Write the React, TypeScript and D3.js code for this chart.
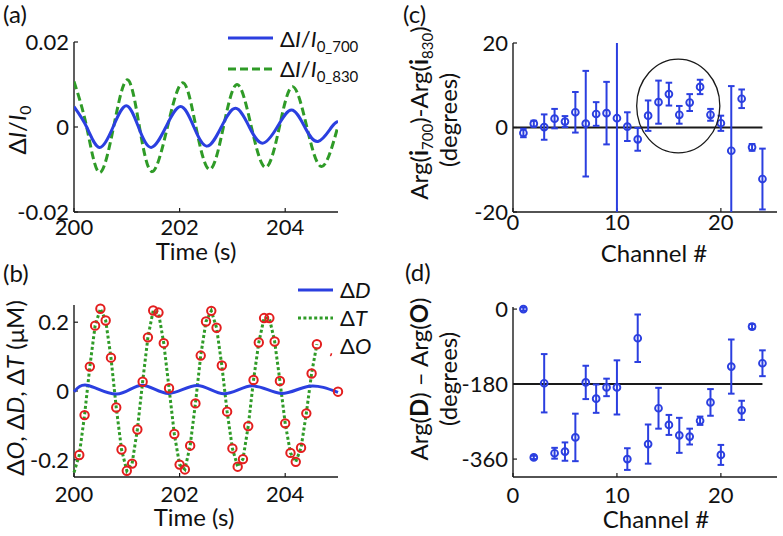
import React from 'react';
import * as d3 from 'd3';

const FONT = "Lato, 'Liberation Sans', sans-serif";
const BLUE = '#2b3fe0';
const GREEN = '#2f9b27';
const RED = '#e31e1e';
const AXIS = '#1a1a1a';

// ---------- Panel (a) ----------
const a700Times = [200.0, 200.24, 200.48, 200.74, 200.99, 201.22, 201.46, 201.74, 202.02, 202.27, 202.52, 202.79, 203.06, 203.32, 203.57, 203.85, 204.12, 204.37, 204.62, 204.88, 205.0];
const a700Values = [0.0048, 0, -0.0048, 0, 0.005, 0, -0.0048, 0, 0.0048, 0, -0.0045, 0, 0.0044, 0, -0.0038, 0, 0.004, 0, -0.0034, 0, 0.0013];
const a830Times = [200.0, 200.24, 200.48, 200.75, 201.01, 201.24, 201.48, 201.77, 202.06, 202.31, 202.57, 202.83, 203.09, 203.36, 203.63, 203.89, 204.14, 204.41, 204.69, 205.0];
const a830Values = [0.0107, 0, -0.0107, 0, 0.0111, 0, -0.0105, 0, 0.0104, 0, -0.01, 0, 0.01, 0, -0.0095, 0, 0.0095, 0, -0.0093, 0.0002];
const aYTicks = [-0.02, 0, 0.02];
const aYTickLabels = ['-0.02', '0', '0.02'];
const timeTicks = [200, 202, 204];
const timeTickLabels = ['200', '202', '204'];

// ---------- Panel (b) ----------
const bDTimes = [200.0, 200.27, 200.81, 201.29, 201.79, 202.33, 202.84, 203.38, 203.92, 204.45, 205.0];
const bDValues = [-0.002, 0.016, -0.009, 0.017, -0.007, 0.016, -0.008, 0.015, -0.007, 0.014, -0.004];
const bOTimes = [
  200.1, 200.2, 200.3, 200.4, 200.5, 200.6, 200.7, 200.8, 200.9, 201.0,
  201.1, 201.2, 201.3, 201.4, 201.5, 201.6, 201.7, 201.8, 201.9, 202.0,
  202.1, 202.2, 202.3, 202.4, 202.5, 202.6, 202.7, 202.8, 202.9, 203.0,
  203.1, 203.2, 203.3, 203.4, 203.5, 203.6, 203.7, 203.8, 203.9, 204.0,
  204.1, 204.2, 204.3, 204.4, 204.5, 204.6, 204.7, 204.8, 204.9, 205.0,
];
const bOValues: (number | null)[] = [
  -0.186, -0.07, 0.071, 0.19, 0.239, 0.205, 0.097, -0.048, -0.17, -0.232,
  -0.211, -0.112, 0.027, 0.156, 0.234, 0.228, 0.139, 0.008, -0.125, -0.214,
  -0.228, -0.159, -0.036, 0.103, 0.202, 0.233, 0.184, 0.074, -0.06, -0.167,
  -0.22, -0.198, -0.102, 0.032, 0.141, 0.212, 0.212, 0.144, 0.029, -0.094,
  -0.18, -0.206, -0.165, -0.065, 0.051, 0.136, null, null, null, -0.002,
];
const bTTimes = [
  200.0, 200.1, 200.2, 200.3, 200.4, 200.5, 200.6, 200.7, 200.8, 200.9, 201.0,
  201.1, 201.2, 201.3, 201.4, 201.5, 201.6, 201.7, 201.8, 201.9, 202.0,
  202.1, 202.2, 202.3, 202.4, 202.5, 202.6, 202.7, 202.8, 202.9, 203.0,
  203.1, 203.2, 203.3, 203.4, 203.5, 203.6, 203.7, 203.8, 203.9, 204.0,
  204.1, 204.2, 204.3, 204.4, 204.5, 204.6, 204.92, 205.0,
];
const bTValues: (number | null)[] = [
  -0.237, -0.186, -0.07, 0.071, 0.19, 0.239, 0.205, 0.097, -0.048, -0.17, -0.232,
  -0.211, -0.112, 0.027, 0.156, 0.234, 0.228, 0.139, 0.008, -0.125, -0.214,
  -0.228, -0.159, -0.036, 0.103, 0.202, 0.233, 0.184, 0.074, -0.06, -0.167,
  -0.22, -0.198, -0.102, 0.032, 0.141, 0.212, 0.212, 0.144, 0.029, -0.094,
  -0.18, -0.206, -0.165, -0.065, 0.051, 0.136, null, 0.075, -0.002,
];
const bOFragmentTimes = [204.8];
const bOFragmentValues = [0.11];
const bYTicks = [-0.2, 0, 0.2];
const bYTickLabels = ['-0.2', '0', '0.2'];

// ---------- Panels (c) and (d) ----------
const channels = [1, 2, 3, 4, 5, 6, 7, 8, 9, 10, 11, 12, 13, 14, 15, 16, 17, 18, 19, 20, 21, 22, 23, 24];
const cValues = [-1.3, 0.9, 0.1, 2.1, 1.4, 3.6, 0.9, 3.2, 3.4, 2.2, 0.2, -2.8, 2.8, 6.0, 7.9, 3.0, 5.9, 9.6, 3.0, 1.0, -5.5, 6.8, -4.7, -12.2];
const cErrors = [1.0, 0.7, 3.0, 2.3, 1.3, 4.8, 12.5, 2.8, 7.4, 25, 3.4, 2.7, 3.6, 5.1, 2.7, 2.1, 2.0, 1.7, 1.4, 1.8, 15.3, 2.2, 0.8, 7.2];
const cYTicks = [-20, 0, 20];
const cYTickLabels = ['-20', '0', '20'];
const cHighlight = { channel: 15.9, value: 5.1, rChannel: 4.0, rValue: 11.1 };

const dValues = [0, -356, -178, -346, -342, -308, -176, -215, -188, -188, -360, -70, -324, -238, -278, -303, -306, -268, -224, -350, -138, -243, -42, -130];
const dErrors = [4, 4, 70, 13, 22, 57, 40, 34, 21, 65, 26, 57, 47, 49, 24, 42, 19, 10, 32, 24, 65, 23, 6, 31];
const dYTicks = [-360, -180, 0];
const dYTickLabels = ['-360', '-180', '0'];
const channelTicks = [0, 10, 20];
const channelTickLabels = ['0', '10', '20'];

const TICK_FS = 22;
const LABEL_FS = 24;

type Scale = d3.ScaleLinear<number, number>;

function AxisFrame({ x, y, xTicks, xLabels, yTicks, yLabels, xLabelY }: {
  x: Scale; y: Scale; xTicks: number[]; xLabels: string[]; yTicks: number[]; yLabels: string[]; xLabelY: number;
}) {
  const [x0, x1] = x.range();
  const [yb, yt] = y.range();
  return (
    <g>
      <line x1={x0} x2={x0} y1={yt} y2={yb} stroke={AXIS} strokeWidth={1.4} />
      <line x1={x0} x2={x1} y1={yb} y2={yb} stroke={AXIS} strokeWidth={1.4} />
      {yTicks.map((t, i) => (
        <g key={'y' + i}>
          <line x1={x0} x2={x0 + 4} y1={y(t)} y2={y(t)} stroke={AXIS} strokeWidth={1.2} />
          <text x={x0 - 5} y={y(t)} dy="0.36em" textAnchor="end" fontSize={TICK_FS} fill="#111">{yLabels[i]}</text>
        </g>
      ))}
      {xTicks.map((t, i) => (
        <g key={'x' + i}>
          <line x1={x(t)} x2={x(t)} y1={yb} y2={yb - 4} stroke={AXIS} strokeWidth={1.2} />
          <text x={x(t)} y={xLabelY} textAnchor="middle" fontSize={TICK_FS} fill="#111">{xLabels[i]}</text>
        </g>
      ))}
    </g>
  );
}

function ErrorPoints({ x, y, values, errors, clipId }: { x: Scale; y: Scale; values: number[]; errors: number[]; clipId: string }) {
  return (
    <g>
      <g clipPath={`url(#${clipId})`}>
        {channels.map((c, i) => {
          const top = y(values[i] + errors[i]);
          const bot = y(values[i] - errors[i]);
          const cx = x(c);
          return (
            <g key={i} stroke={BLUE} strokeWidth={2} fill="none">
              <line x1={cx} x2={cx} y1={top} y2={bot} />
              <line x1={cx - 3.3} x2={cx + 3.3} y1={top} y2={top} />
              <line x1={cx - 3.3} x2={cx + 3.3} y1={bot} y2={bot} />
            </g>
          );
        })}
      </g>
      {channels.map((c, i) => (
        <circle key={'m' + i} cx={x(c)} cy={y(values[i])} r={3.4} fill="none" stroke={BLUE} strokeWidth={1.9} />
      ))}
    </g>
  );
}

export default function App() {
  const xA = d3.scaleLinear().domain([200, 205]).range([74, 338]);
  const yA = d3.scaleLinear().domain([-0.02, 0.02]).range([212, 42]);
  const xB = d3.scaleLinear().domain([200, 205]).range([74, 338]);
  const yB = d3.scaleLinear().domain([-0.25, 0.25]).range([477, 305]);
  const xC = d3.scaleLinear().domain([0, 25.4]).range([513, 777]);
  const yC = d3.scaleLinear().domain([-20, 20]).range([212, 43]);
  const xD = d3.scaleLinear().domain([0, 25.4]).range([513, 777]);
  const yD = d3.scaleLinear().domain([-403, 5]).range([477, 307]);

  const smooth = (xs: number[], vs: number[], x: Scale, y: Scale) =>
    d3.line<number>().x((_, i) => x(xs[i])).y((v) => y(v)).curve(d3.curveNatural)(vs) || '';
  const straight = (xs: number[], vs: (number | null)[], x: Scale, y: Scale) =>
    d3.line<number | null>().defined((v) => v !== null).x((_, i) => x(xs[i])).y((v) => y(v as number))(vs) || '';

  const subFs = 15;

  return (
    <svg width={783} height={536} style={{ position: 'absolute', left: 0, top: 0, background: '#fff' }} fontFamily={FONT}>
      <defs>
        <clipPath id="clipA"><rect x={74} y={20} width={264} height={192} /></clipPath>
        <clipPath id="clipC"><rect x={513} y={43} width={264} height={169} /></clipPath>
        <clipPath id="clipD"><rect x={513} y={300} width={264} height={177} /></clipPath>
      </defs>

      {/* ---------------- (a) ---------------- */}
      <text x={3} y={23} fontSize={LABEL_FS} fill="#111">(a)</text>
      <AxisFrame x={xA} y={yA} xTicks={timeTicks} xLabels={timeTickLabels} yTicks={aYTicks} yLabels={aYTickLabels} xLabelY={235} />
      <g clipPath="url(#clipA)">
        <path d={smooth(a830Times, a830Values, xA, yA)} fill="none" stroke={GREEN} strokeWidth={3} strokeDasharray="8,4" />
        <path d={smooth(a700Times, a700Values, xA, yA)} fill="none" stroke={BLUE} strokeWidth={3} />
      </g>
      <text transform="translate(26,130) rotate(-90)" textAnchor="middle" fontSize={LABEL_FS} fill="#111">
        Δ<tspan fontStyle="italic">I</tspan>/<tspan fontStyle="italic">I</tspan><tspan fontSize={subFs + 1} dy={5}>0</tspan>
      </text>
      <text x={196} y={260} textAnchor="middle" fontSize={LABEL_FS} fill="#111">Time (s)</text>
      {/* legend (a) */}
      <line x1={228} x2={273} y1={38} y2={38} stroke={BLUE} strokeWidth={3} />
      <text x={280} y={47} fontSize={22} fill="#111">
        Δ<tspan fontStyle="italic">I</tspan>/<tspan fontStyle="italic">I</tspan><tspan fontSize={subFs} dy={5}>0_700</tspan>
      </text>
      <line x1={228} x2={273} y1={69} y2={69} stroke={GREEN} strokeWidth={3} strokeDasharray="8,4" />
      <text x={280} y={77} fontSize={22} fill="#111">
        Δ<tspan fontStyle="italic">I</tspan>/<tspan fontStyle="italic">I</tspan><tspan fontSize={subFs} dy={5}>0_830</tspan>
      </text>

      {/* ---------------- (b) ---------------- */}
      <text x={3} y={282} fontSize={LABEL_FS} fill="#111">(b)</text>
      <AxisFrame x={xB} y={yB} xTicks={timeTicks} xLabels={timeTickLabels} yTicks={bYTicks} yLabels={bYTickLabels} xLabelY={502} />
      <path d={straight(bTTimes, bTValues, xB, yB)} fill="none" stroke={GREEN} strokeWidth={3} strokeDasharray="3,2.4" />
      <path d={smooth(bDTimes, bDValues, xB, yB)} fill="none" stroke={BLUE} strokeWidth={3} />
      {bOTimes.map((t, i) => bOValues[i] === null ? null : (
        <circle key={i} cx={xB(t)} cy={yB(bOValues[i] as number)} r={4.2} fill="none" stroke={RED} strokeWidth={2} />
      ))}
      {bOFragmentTimes.map((t, i) => (
        <circle key={'f' + i} cx={xB(t)} cy={yB(bOFragmentValues[i])} r={4} fill="none" stroke={RED} strokeWidth={1.6} strokeDasharray="3,30" />
      ))}
      <text transform="translate(24,388) rotate(-90)" textAnchor="middle" fontSize={LABEL_FS} fill="#111">
        Δ<tspan fontStyle="italic">O</tspan>, Δ<tspan fontStyle="italic">D</tspan>, Δ<tspan fontStyle="italic">T</tspan> (μM)
      </text>
      <text x={194} y={526} textAnchor="middle" fontSize={LABEL_FS} fill="#111">Time (s)</text>
      {/* legend (b) */}
      <line x1={298} x2={333} y1={290} y2={290} stroke={BLUE} strokeWidth={3} />
      <text x={340} y={298} fontSize={22} fill="#111">Δ<tspan fontStyle="italic">D</tspan></text>
      <line x1={298} x2={333} y1={318} y2={318} stroke={GREEN} strokeWidth={3} strokeDasharray="3,2.4" />
      <text x={340} y={326} fontSize={22} fill="#111">Δ<tspan fontStyle="italic">T</tspan></text>
      <text x={340} y={354} fontSize={22} fill="#111">Δ<tspan fontStyle="italic">O</tspan></text>

      {/* ---------------- (c) ---------------- */}
      <text x={403} y={23} fontSize={LABEL_FS} fill="#111">(c)</text>
      <AxisFrame x={xC} y={yC} xTicks={channelTicks} xLabels={channelTickLabels} yTicks={cYTicks} yLabels={cYTickLabels} xLabelY={230} />
      <line x1={xC(0)} x2={xC(24)} y1={yC(0)} y2={yC(0)} stroke={AXIS} strokeWidth={2} />
      <ErrorPoints x={xC} y={yC} values={cValues} errors={cErrors} clipId="clipC" />
      <ellipse
        cx={xC(cHighlight.channel)} cy={yC(cHighlight.value)}
        rx={xC(cHighlight.channel + cHighlight.rChannel) - xC(cHighlight.channel)}
        ry={yC(cHighlight.value) - yC(cHighlight.value + cHighlight.rValue)}
        fill="none" stroke={AXIS} strokeWidth={1.3}
      />
      <text transform="translate(428,113) rotate(-90)" textAnchor="middle" fontSize={LABEL_FS} fill="#111">
        Arg(<tspan fontWeight="bold">i</tspan><tspan fontSize={subFs} dy={5}>700</tspan><tspan dy={-5}>)-Arg(</tspan><tspan fontWeight="bold">i</tspan><tspan fontSize={subFs} dy={5}>830</tspan><tspan dy={-5}>)</tspan>
      </text>
      <text transform="translate(457,120) rotate(-90)" textAnchor="middle" fontSize={LABEL_FS} fill="#111">(degrees)</text>
      <text x={654} y={262} textAnchor="middle" fontSize={LABEL_FS} fill="#111">Channel #</text>

      {/* ---------------- (d) ---------------- */}
      <text x={405} y={281} fontSize={LABEL_FS} fill="#111">(d)</text>
      <AxisFrame x={xD} y={yD} xTicks={channelTicks} xLabels={channelTickLabels} yTicks={dYTicks} yLabels={dYTickLabels} xLabelY={503} />
      <line x1={xD(0)} x2={xD(24)} y1={yD(-180)} y2={yD(-180)} stroke={AXIS} strokeWidth={2} />
      <ErrorPoints x={xD} y={yD} values={dValues} errors={dErrors} clipId="clipD" />
      <text transform="translate(428,379) rotate(-90)" textAnchor="middle" fontSize={LABEL_FS} fill="#111">
        Arg(<tspan fontWeight="bold">D</tspan>) – Arg(<tspan fontWeight="bold">O</tspan>)
      </text>
      <text transform="translate(457,379) rotate(-90)" textAnchor="middle" fontSize={LABEL_FS} fill="#111">(degrees)</text>
      <text x={656} y={528} textAnchor="middle" fontSize={LABEL_FS} fill="#111">Channel #</text>
    </svg>
  );
}
